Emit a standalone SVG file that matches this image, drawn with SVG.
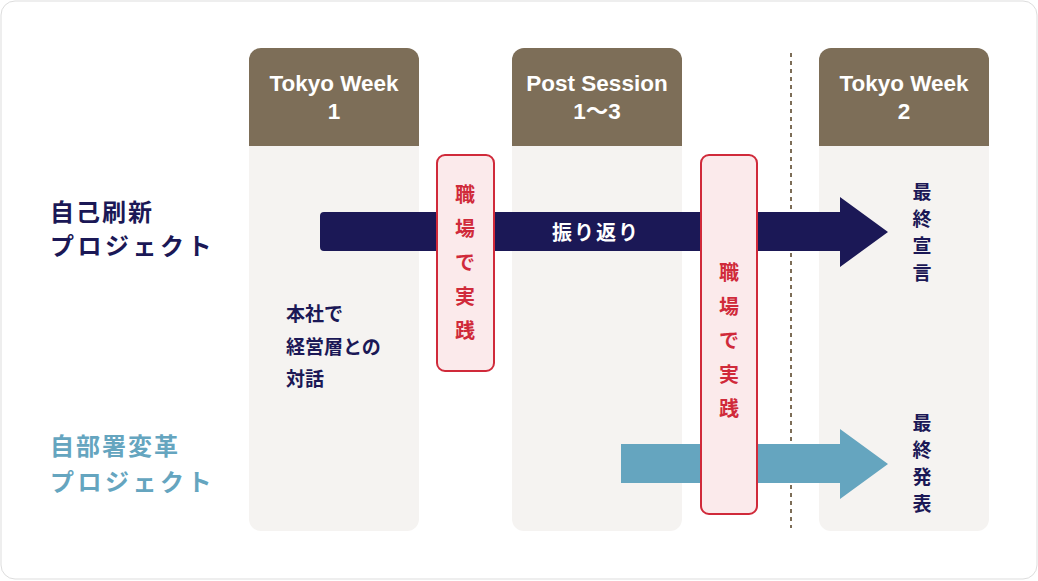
<svg xmlns="http://www.w3.org/2000/svg" width="1038" height="581" viewBox="0 0 1038 581">
<style>
.hd{fill:#7d6e58}.bd{fill:#f5f3f1}
.ht{font:bold 22.5px "Liberation Sans","Noto Sans CJK JP",sans-serif;fill:#fff;text-anchor:middle}
.jp{font-family:"Noto Sans CJK JP",sans-serif;font-weight:bold}
.rb{fill:#fbeaeb;stroke:#d02a3a;stroke-width:2}
.rt{font-size:20px;fill:#d02a3a;text-anchor:middle}
.nt{font-size:19px;fill:#1b1856}
</style>
<rect x="1" y="1" width="1036" height="578" rx="14" fill="#fff" stroke="#ddd"/>
<g id="col1"><path class="hd" d="M249 146V60a12 12 0 0 1 12-12h146a12 12 0 0 1 12 12v86z"/><path class="bd" d="M249 146h170v373a12 12 0 0 1-12 12H261a12 12 0 0 1-12-12z"/>
<text class="ht" x="334" y="91">Tokyo Week</text><text class="ht" x="334" y="119">1</text></g>
<g id="col2"><path class="hd" d="M512 146V60a12 12 0 0 1 12-12h146a12 12 0 0 1 12 12v86z"/><path class="bd" d="M512 146h170v373a12 12 0 0 1-12 12H524a12 12 0 0 1-12-12z"/>
<text class="ht" x="597" y="91">Post Session</text><text class="ht" x="597" y="119">1〜3</text></g>
<g id="col3"><path class="hd" d="M819 146V60a12 12 0 0 1 12-12h146a12 12 0 0 1 12 12v86z"/><path class="bd" d="M819 146h170v373a12 12 0 0 1-12 12H831a12 12 0 0 1-12-12z"/>
<text class="ht" x="904" y="91">Tokyo Week</text><text class="ht" x="904" y="119">2</text></g>
<line x1="791" y1="53" x2="791" y2="528" stroke="#7d6e58" stroke-width="2" stroke-dasharray="4 4"/>
<g id="connectors">
<path d="M324 212H840V197L888 232L840 267V251H324a4 4 0 0 1-4-4v-31a4 4 0 0 1 4-4z" fill="#1b1856"/>
<path d="M621 444H840V429L888 464L840 499V483H621z" fill="#65a5bf"/>
</g>
<g id="labels" class="jp">
<text x="50" y="221" font-size="24" fill="#1b1856" letter-spacing="2">自己刷新</text>
<text x="50" y="255" font-size="24" fill="#1b1856" letter-spacing="3.5">プロジェクト</text>
<text x="50" y="455" font-size="24" fill="#65a5bf" letter-spacing="2">自部署変革</text>
<text x="50" y="491" font-size="24" fill="#65a5bf" letter-spacing="3.5">プロジェクト</text>
<text x="596" y="240" font-size="20" fill="#fff" text-anchor="middle" letter-spacing="2">振り返り</text>
<text class="nt" x="286" y="321">本社で</text>
<text class="nt" x="286" y="354">経営層との</text>
<text class="nt" x="286" y="386">対話</text>
<g class="nt" text-anchor="middle"><text x="922" y="199">最</text><text x="922" y="226">終</text><text x="922" y="253">宣</text><text x="922" y="280">言</text>
<text x="922" y="430">最</text><text x="922" y="457">終</text><text x="922" y="484">発</text><text x="922" y="511">表</text></g>
</g>
<g id="box1"><rect class="rb" x="437" y="155" width="57" height="216" rx="8"/>
<g class="jp rt"><text x="465" y="202">職</text><text x="465" y="236">場</text><text x="465" y="270">で</text><text x="465" y="304">実</text><text x="465" y="338">践</text></g></g>
<g id="box2"><rect class="rb" x="701" y="155" width="56" height="359" rx="8"/>
<g class="jp rt"><text x="729" y="280">職</text><text x="729" y="314">場</text><text x="729" y="348">で</text><text x="729" y="382">実</text><text x="729" y="416">践</text></g></g>
</svg>
